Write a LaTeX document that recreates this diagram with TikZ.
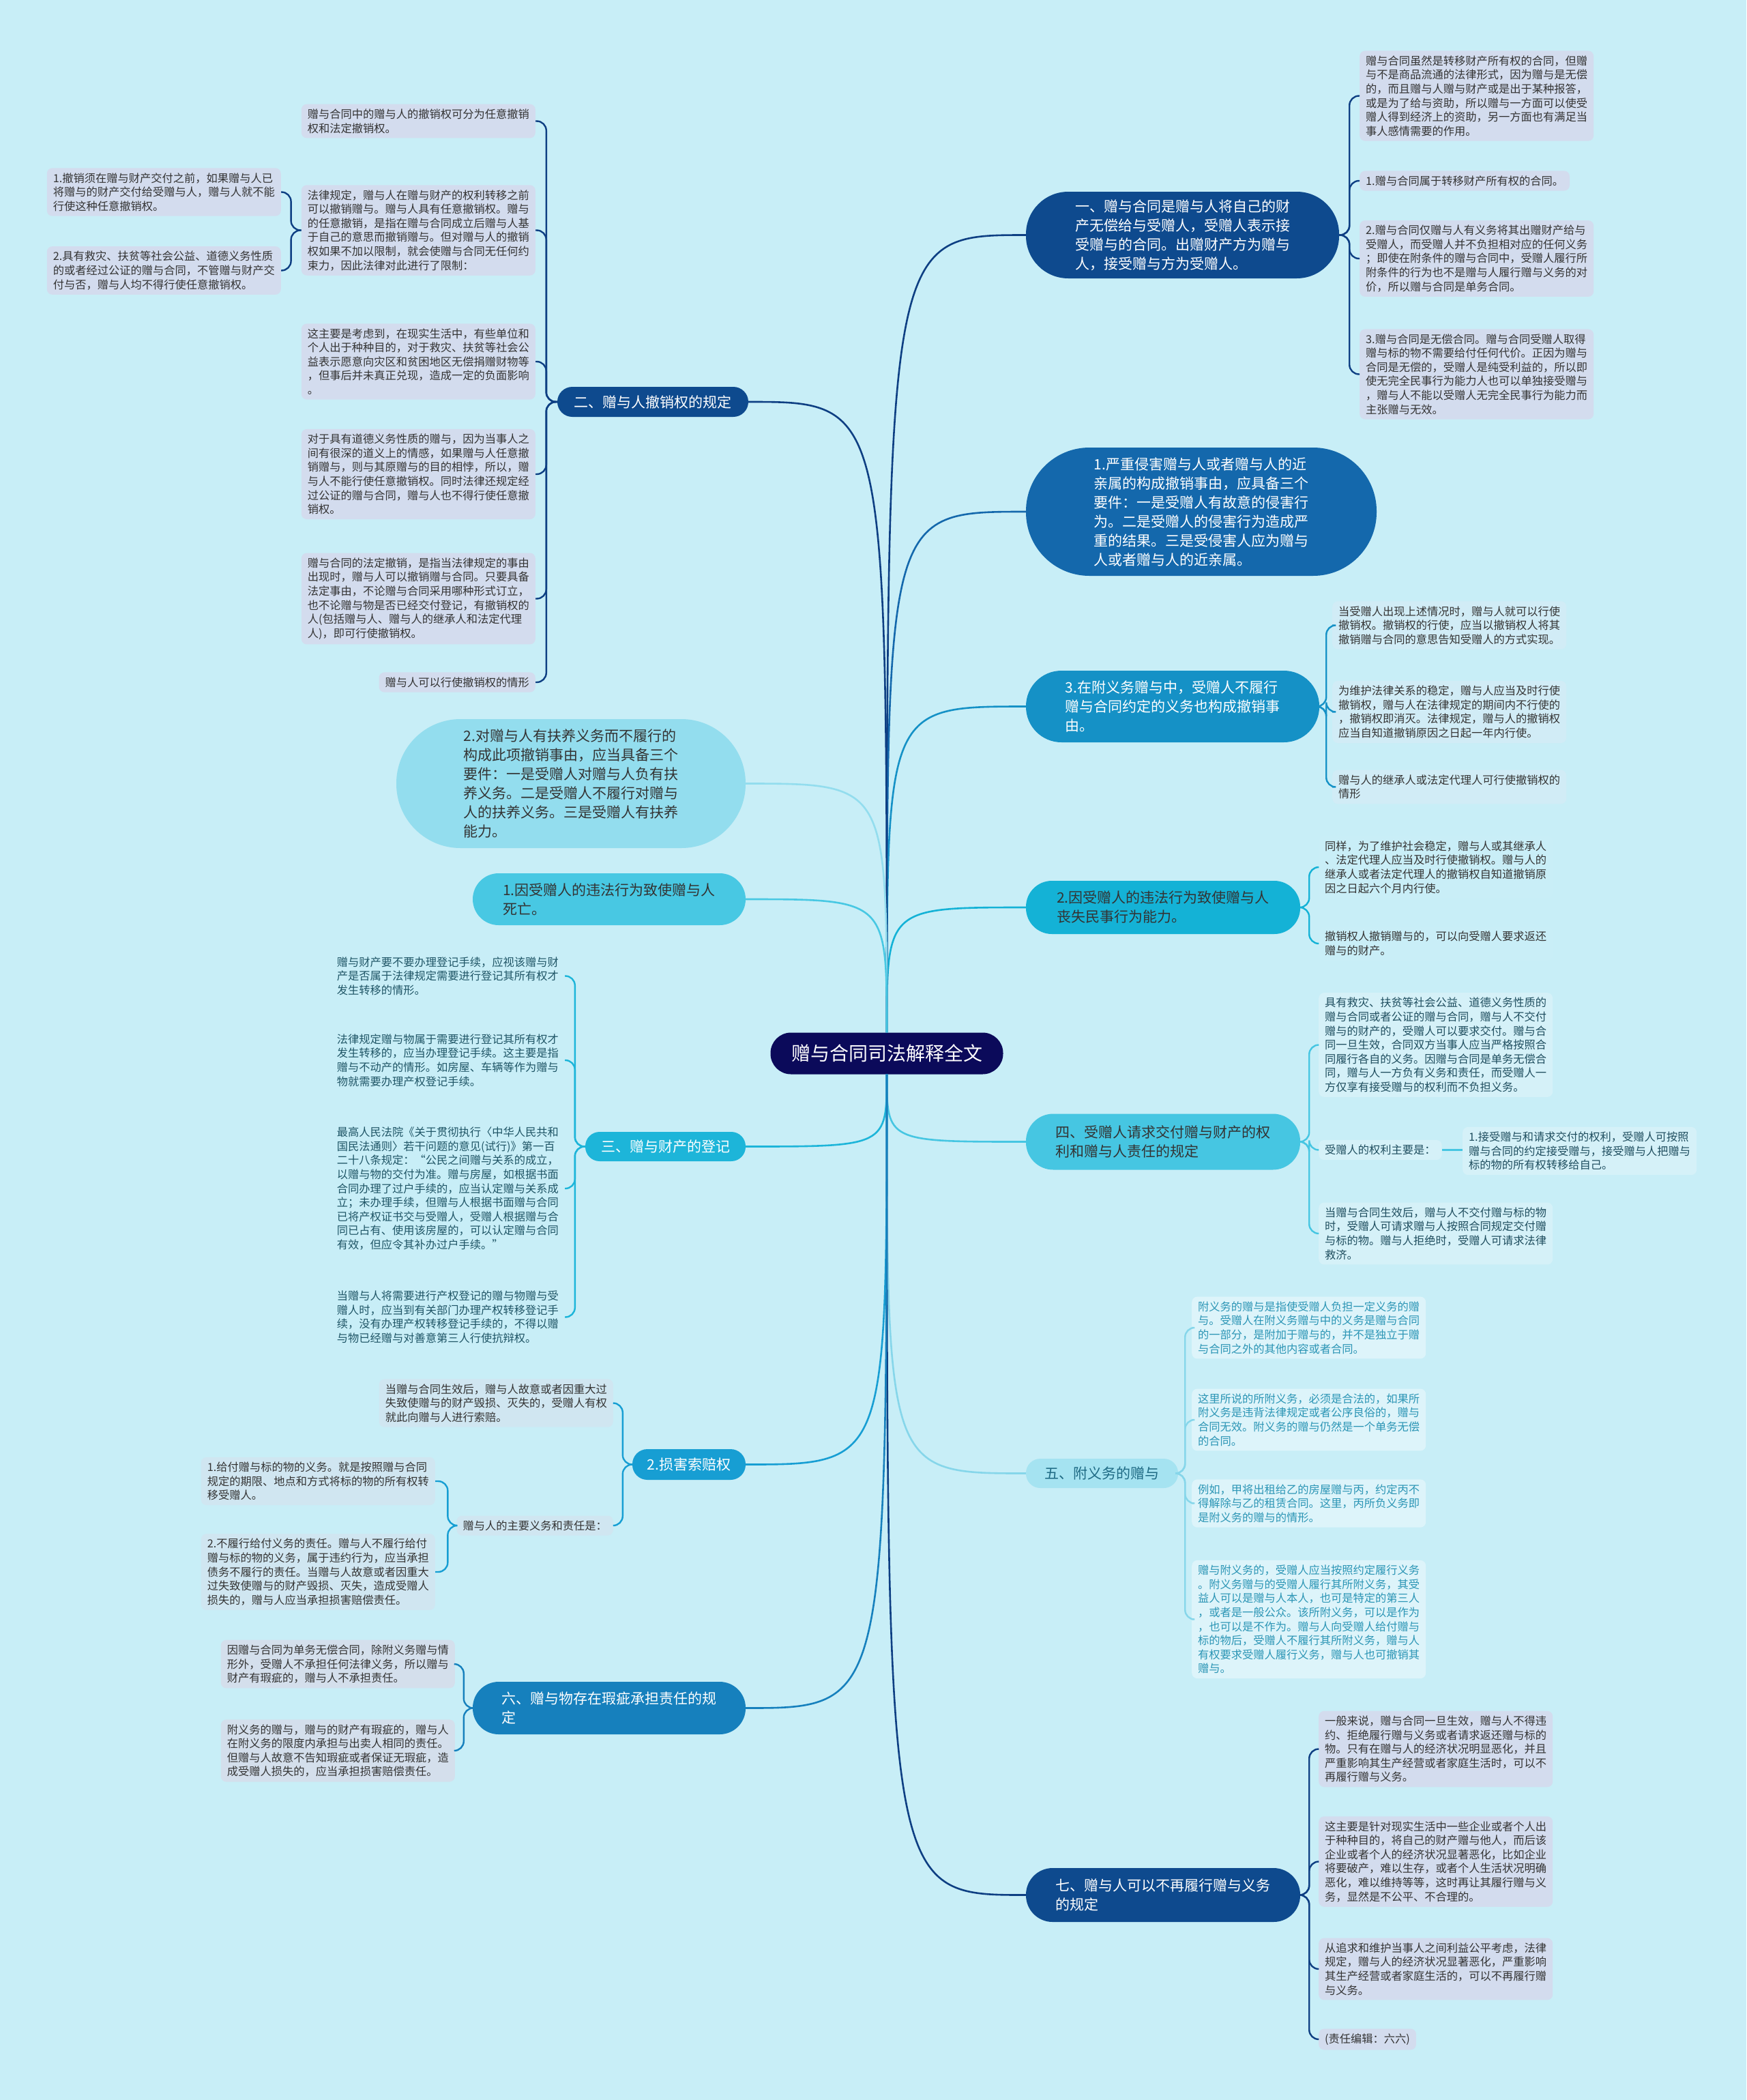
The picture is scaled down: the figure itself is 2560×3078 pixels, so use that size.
\documentclass[tikz,border=0pt]{standalone}
\usepackage{fontspec}
\setmainfont{Noto Sans CJK SC}
\newcommand\myleaf{\fontsize{16.25}{20.6}\selectfont}
\newcommand\mymain{\fontsize{21}{28}\selectfont}
\newcommand\mycenter{\fontsize{28}{34}\selectfont}
\definecolor{bg}{HTML}{C8EEF7}
\definecolor{cCenter}{HTML}{0B0A5A}
\definecolor{cDark}{HTML}{0E4A8E}
\definecolor{cDarkLine}{HTML}{0E3F83}
\definecolor{cNtwo}{HTML}{1468AC}
\definecolor{cNthree}{HTML}{1591C6}
\definecolor{cNfour}{HTML}{14B2D6}
\definecolor{cNfive}{HTML}{46C6E2}
\definecolor{cNsix}{HTML}{A5E3F1}
\definecolor{cNsixText}{HTML}{1E6A84}
\definecolor{cNsixLine}{HTML}{86D6EA}
\definecolor{cMtwo}{HTML}{93DDEE}
\definecolor{cMthree}{HTML}{48C8E3}
\definecolor{cMfour}{HTML}{1DB5D9}
\definecolor{cMfive}{HTML}{179ED3}
\definecolor{cMsix}{HTML}{1680BD}
\definecolor{leafGray}{HTML}{D3DCEE}
\definecolor{leafText}{HTML}{333333}
\definecolor{leafThree}{HTML}{D1ECF6}
\definecolor{leafFour}{HTML}{C9EEF7}
\definecolor{leafFive}{HTML}{D5F1F8}
\definecolor{leafFiveText}{HTML}{1F4E5F}
\definecolor{leafSix}{HTML}{DDF4FA}
\definecolor{leafSixText}{HTML}{2B95B5}
\definecolor{leafMfourText}{HTML}{1F5566}
\definecolor{leafMfive}{HTML}{D0E6F1}
\definecolor{leafMsix}{HTML}{D4DFEC}
\begin{document}
\begin{tikzpicture}[x=1pt,y=-1pt,
  leaf/.style={rectangle, rounded corners=8pt, inner xsep=9pt, inner ysep=7pt, align=left, font=\myleaf, text=leafText},
  mn/.style={rectangle, align=left, inner sep=0pt, font=\mymain},
  cl/.style={line width=2.6pt},
  lc/.style={line width=2.4pt, rounded corners=14pt}]
\useasboundingbox (0,0) rectangle (2560,3078);
\fill[bg] (0,0) rectangle (2560,3078);

% ---------- center ----------
\node[rectangle, rounded corners=30pt, fill=cCenter, text=white, font=\mycenter,
  minimum width=341pt, minimum height=61pt, inner sep=0pt] (C) at (1300,1544) {赠与合同司法解释全文};

% ---------- right main nodes ----------
\node[mn, fill=cDark, text=white, rounded corners=62pt, minimum width=459pt, minimum height=127pt] (N1) at (1733.5,344.5)
 {一、赠与合同是赠与人将自己的财\\产无偿给与受赠人，受赠人表示接\\受赠与的合同。出赠财产方为赠与\\人，接受赠与方为受赠人。};
\node[mn, fill=cNtwo, text=white, rounded corners=93pt, minimum width=514pt, minimum height=188pt] (N2) at (1761,750)
 {1.严重侵害赠与人或者赠与人的近\\亲属的构成撤销事由，应具备三个\\要件：一是受赠人有故意的侵害行\\为。二是受赠人的侵害行为造成严\\重的结果。三是受侵害人应为赠与\\人或者赠与人的近亲属。};
\node[mn, fill=cNthree, text=white, rounded corners=52pt, minimum width=430pt, minimum height=105pt] (N3) at (1719,1035.5)
 {3.在附义务赠与中，受赠人不履行\\赠与合同约定的义务也构成撤销事\\由。};
\node[mn, fill=cNfour, text=leafText, rounded corners=38pt, minimum width=402pt, minimum height=78pt] (N4) at (1705,1330)
 {2.因受赠人的违法行为致使赠与人\\丧失民事行为能力。};
\node[mn, fill=cNfive, text=leafText, rounded corners=40pt, minimum width=402pt, minimum height=82pt] (N5) at (1705,1673.5)
 {四、受赠人请求交付赠与财产的权\\利和赠与人责任的规定};
\node[mn, fill=cNsix, text=cNsixText, rounded corners=21pt, minimum width=223pt, minimum height=43pt] (N6) at (1615.5,2159.5)
 {五、附义务的赠与};
\node[mn, fill=cDark, text=white, rounded corners=39pt, minimum width=402pt, minimum height=79pt] (N7) at (1705,2777.5)
 {七、赠与人可以不再履行赠与义务\\的规定};

% ---------- left main nodes ----------
\node[mn, fill=cDark, text=white, rounded corners=22pt, minimum width=280pt, minimum height=44pt] (M1) at (957,589)
 {二、赠与人撤销权的规定};
\node[mn, fill=cMtwo, text=leafText, rounded corners=94pt, minimum width=512pt, minimum height=189pt] (M2) at (837,1148.5)
 {2.对赠与人有扶养义务而不履行的\\构成此项撤销事由，应当具备三个\\要件：一是受赠人对赠与人负有扶\\养义务。二是受赠人不履行对赠与\\人的扶养义务。三是受赠人有扶养\\能力。};
\node[mn, fill=cMthree, text=leafText, rounded corners=38pt, minimum width=400pt, minimum height=76pt] (M3) at (893,1318)
 {1.因受赠人的违法行为致使赠与人\\死亡。};
\node[mn, fill=cMfour, text=white, rounded corners=21pt, minimum width=235pt, minimum height=43pt] (M4) at (975.5,1680.5)
 {三、赠与财产的登记};
\node[mn, fill=cMfive, text=white, rounded corners=22pt, minimum width=166pt, minimum height=45pt] (M5) at (1010,2146.5)
 {2.损害索赔权};
\node[mn, fill=cMsix, text=white, rounded corners=38pt, minimum width=400pt, minimum height=77pt] (M6) at (893,2503.5)
 {六、赠与物存在瑕疵承担责任的规\\定};

% ---------- leaves of N1 ----------
\node[leaf, fill=leafGray, anchor=west] (L1a) at (1993,140.5)
 {赠与合同虽然是转移财产所有权的合同，但赠\\与不是商品流通的法律形式，因为赠与是无偿\\的，而且赠与人赠与财产或是出于某种报答，\\或是为了给与资助，所以赠与一方面可以使受\\赠人得到经济上的资助，另一方面也有满足当\\事人感情需要的作用。};
\node[leaf, fill=leafGray, anchor=west] (L1b) at (1993,265)
 {1.赠与合同属于转移财产所有权的合同。};
\node[leaf, fill=leafGray, anchor=west] (L1c) at (1993,379)
 {2.赠与合同仅赠与人有义务将其出赠财产给与\\受赠人，而受赠人并不负担相对应的任何义务\\；即使在附条件的赠与合同中，受赠人履行所\\附条件的行为也不是赠与人履行赠与义务的对\\价，所以赠与合同是单务合同。};
\node[leaf, fill=leafGray, anchor=west] (L1d) at (1993,548.5)
 {3.赠与合同是无偿合同。赠与合同受赠人取得\\赠与标的物不需要给付任何代价。正因为赠与\\合同是无偿的，受赠人是纯受利益的，所以即\\使无完全民事行为能力人也可以单独接受赠与\\，赠与人不能以受赠人无完全民事行为能力而\\主张赠与无效。};

% ---------- leaves of N3 ----------
\node[leaf, fill=leafThree, anchor=west] (L3a) at (1953,916.5)
 {当受赠人出现上述情况时，赠与人就可以行使\\撤销权。撤销权的行使，应当以撤销权人将其\\撤销赠与合同的意思告知受赠人的方式实现。};
\node[leaf, fill=leafThree, anchor=west] (L3b) at (1953,1043.5)
 {为维护法律关系的稳定，赠与人应当及时行使\\撤销权，赠与人在法律规定的期间内不行使的\\，撤销权即消灭。法律规定，赠与人的撤销权\\应当自知道撤销原因之日起一年内行使。};
\node[leaf, fill=leafThree, anchor=west] (L3c) at (1953,1153.5)
 {赠与人的继承人或法定代理人可行使撤销权的\\情形};

% ---------- leaves of N4 ----------
\node[leaf, fill=leafFour, anchor=west] (R2a) at (1933,1271)
 {同样，为了维护社会稳定，赠与人或其继承人\\、法定代理人应当及时行使撤销权。赠与人的\\继承人或者法定代理人的撤销权自知道撤销原\\因之日起六个月内行使。};
\node[leaf, fill=leafFour, anchor=west] (R2b) at (1933,1383)
 {撤销权人撤销赠与的，可以向受赠人要求返还\\赠与的财产。};

% ---------- leaves of N5 ----------
\node[leaf, fill=leafFive, text=leafFiveText, anchor=west] (R4a) at (1933,1531.5)
 {具有救灾、扶贫等社会公益、道德义务性质的\\赠与合同或者公证的赠与合同，赠与人不交付\\赠与的财产的，受赠人可以要求交付。赠与合\\同一旦生效，合同双方当事人应当严格按照合\\同履行各自的义务。因赠与合同是单务无偿合\\同，赠与人一方负有义务和责任，而受赠人一\\方仅享有接受赠与的权利而不负担义务。};
\node[leaf, fill=leafFive, text=leafFiveText, anchor=west] (R4b) at (1933,1685.5)
 {受赠人的权利主要是：};
\node[leaf, fill=leafFive, text=leafFiveText, anchor=west] (R4b1) at (2144,1687)
 {1.接受赠与和请求交付的权利，受赠人可按照\\赠与合同的约定接受赠与，接受赠与人把赠与\\标的物的所有权转移给自己。};
\node[leaf, fill=leafFive, text=leafFiveText, anchor=west] (R4c) at (1933,1808)
 {当赠与合同生效后，赠与人不交付赠与标的物\\时，受赠人可请求赠与人按照合同规定交付赠\\与标的物。赠与人拒绝时，受赠人可请求法律\\救济。};

% ---------- leaves of N6 ----------
\node[leaf, fill=leafSix, text=leafSixText, anchor=west] (R5a) at (1747,1946)
 {附义务的赠与是指使受赠人负担一定义务的赠\\与。受赠人在附义务赠与中的义务是赠与合同\\的一部分，是附加于赠与的，并不是独立于赠\\与合同之外的其他内容或者合同。};
\node[leaf, fill=leafSix, text=leafSixText, anchor=west] (R5b) at (1747,2081)
 {这里所说的所附义务，必须是合法的，如果所\\附义务是违背法律规定或者公序良俗的，赠与\\合同无效。附义务的赠与仍然是一个单务无偿\\的合同。};
\node[leaf, fill=leafSix, text=leafSixText, anchor=west] (R5c) at (1747,2203.5)
 {例如，甲将出租给乙的房屋赠与丙，约定丙不\\得解除与乙的租赁合同。这里，丙所负义务即\\是附义务的赠与的情形。};
\node[leaf, fill=leafSix, text=leafSixText, anchor=west] (R5d) at (1747,2373.5)
 {赠与附义务的，受赠人应当按照约定履行义务\\。附义务赠与的受赠人履行其所附义务，其受\\益人可以是赠与人本人，也可是特定的第三人\\，或者是一般公众。该所附义务，可以是作为\\，也可以是不作为。赠与人向受赠人给付赠与\\标的物后，受赠人不履行其所附义务，赠与人\\有权要求受赠人履行义务，赠与人也可撤销其\\赠与。};

% ---------- leaves of N7 ----------
\node[leaf, fill=leafGray, anchor=west] (R7a) at (1933,2563.5)
 {一般来说，赠与合同一旦生效，赠与人不得违\\约、拒绝履行赠与义务或者请求返还赠与标的\\物。只有在赠与人的经济状况明显恶化，并且\\严重影响其生产经营或者家庭生活时，可以不\\再履行赠与义务。};
\node[leaf, fill=leafGray, anchor=west] (R7b) at (1933,2728.5)
 {这主要是针对现实生活中一些企业或者个人出\\于种种目的，将自己的财产赠与他人，而后该\\企业或者个人的经济状况显著恶化，比如企业\\将要破产，难以生存，或者个人生活状况明确\\恶化，难以维持等等，这时再让其履行赠与义\\务，显然是不公平、不合理的。};
\node[leaf, fill=leafGray, anchor=west] (R7c) at (1933,2886)
 {从追求和维护当事人之间利益公平考虑，法律\\规定，赠与人的经济状况显著恶化，严重影响\\其生产经营或者家庭生活的，可以不再履行赠\\与义务。};
\node[leaf, fill=leafGray, anchor=west] (R7d) at (1933,2989)
 {(责任编辑：六六)};

% ---------- leaves of M1 ----------
\node[leaf, fill=leafGray, anchor=east] (L2a) at (785,177.5)
 {赠与合同中的赠与人的撤销权可分为任意撤销\\权和法定撤销权。};
\node[leaf, fill=leafGray, anchor=east] (L2b) at (785,337.5)
 {法律规定，赠与人在赠与财产的权利转移之前\\可以撤销赠与。赠与人具有任意撤销权。赠与\\的任意撤销，是指在赠与合同成立后赠与人基\\于自己的意思而撤销赠与。但对赠与人的撤销\\权如果不加以限制，就会使赠与合同无任何约\\束力，因此法律对此进行了限制：};
\node[leaf, fill=leafGray, anchor=east] (L2b1) at (412,281.5)
 {1.撤销须在赠与财产交付之前，如果赠与人已\\将赠与的财产交付给受赠与人，赠与人就不能\\行使这种任意撤销权。};
\node[leaf, fill=leafGray, anchor=east] (L2b2) at (412,396.5)
 {2.具有救灾、扶贫等社会公益、道德义务性质\\的或者经过公证的赠与合同，不管赠与财产交\\付与否，赠与人均不得行使任意撤销权。};
\node[leaf, fill=leafGray, anchor=east] (L2c) at (785,530)
 {这主要是考虑到，在现实生活中，有些单位和\\个人出于种种目的，对于救灾、扶贫等社会公\\益表示愿意向灾区和贫困地区无偿捐赠财物等\\，但事后并未真正兑现，造成一定的负面影响\\。};
\node[leaf, fill=leafGray, anchor=east] (L2d) at (785,695)
 {对于具有道德义务性质的赠与，因为当事人之\\间有很深的道义上的情感，如果赠与人任意撤\\销赠与，则与其原赠与的目的相悖，所以，赠\\与人不能行使任意撤销权。同时法律还规定经\\过公证的赠与合同，赠与人也不得行使任意撤\\销权。};
\node[leaf, fill=leafGray, anchor=east] (L2e) at (785,877.5)
 {赠与合同的法定撤销，是指当法律规定的事由\\出现时，赠与人可以撤销赠与合同。只要具备\\法定事由，不论赠与合同采用哪种形式订立，\\也不论赠与物是否已经交付登记，有撤销权的\\人(包括赠与人、赠与人的继承人和法定代理\\人)，即可行使撤销权。};
\node[leaf, fill=leafGray, anchor=east] (L2f) at (785,1000)
 {赠与人可以行使撤销权的情形};

% ---------- leaves of M4 ----------
\node[leaf, text=leafMfourText, anchor=east] (L4a) at (828,1430.5)
 {赠与财产要不要办理登记手续，应视该赠与财\\产是否属于法律规定需要进行登记其所有权才\\发生转移的情形。};
\node[leaf, text=leafMfourText, anchor=east] (L4b) at (828,1554)
 {法律规定赠与物属于需要进行登记其所有权才\\发生转移的，应当办理登记手续。这主要是指\\赠与不动产的情形。如房屋、车辆等作为赠与\\物就需要办理产权登记手续。};
\node[leaf, text=leafMfourText, anchor=east] (L4c) at (828,1742)
 {最高人民法院《关于贯彻执行〈中华人民共和\\国民法通则〉若干问题的意见(试行)》第一百\\二十八条规定：“公民之间赠与关系的成立，\\以赠与物的交付为准。赠与房屋，如根据书面\\合同办理了过户手续的，应当认定赠与关系成\\立；未办理手续，但赠与人根据书面赠与合同\\已将产权证书交与受赠人，受赠人根据赠与合\\同已占有、使用该房屋的，可以认定赠与合同\\有效，但应令其补办过户手续。”};
\node[leaf, text=leafMfourText, anchor=east] (L4d) at (828,1930.5)
 {当赠与人将需要进行产权登记的赠与物赠与受\\赠人时，应当到有关部门办理产权转移登记手\\续，没有办理产权转移登记手续的，不得以赠\\与物已经赠与对善意第三人行使抗辩权。};

% ---------- leaves of M5 ----------
\node[leaf, fill=leafMfive, anchor=east] (LDa) at (899,2056.5)
 {当赠与合同生效后，赠与人故意或者因重大过\\失致使赠与的财产毁损、灭失的，受赠人有权\\就此向赠与人进行索赔。};
\node[leaf, fill=leafMfive, anchor=east] (LDb) at (899,2236)
 {赠与人的主要义务和责任是：};
\node[leaf, fill=leafMfive, anchor=east] (LDb1) at (638,2171)
 {1.给付赠与标的物的义务。就是按照赠与合同\\规定的期限、地点和方式将标的物的所有权转\\移受赠人。};
\node[leaf, fill=leafMfive, anchor=east] (LDb2) at (638,2304)
 {2.不履行给付义务的责任。赠与人不履行给付\\赠与标的物的义务，属于违约行为，应当承担\\债务不履行的责任。当赠与人故意或者因重大\\过失致使赠与的财产毁损、灭失，造成受赠人\\损失的，赠与人应当承担损害赔偿责任。};

% ---------- leaves of M6 ----------
\node[leaf, fill=leafMsix, anchor=east] (L6a) at (667,2439)
 {因赠与合同为单务无偿合同，除附义务赠与情\\形外，受赠人不承担任何法律义务，所以赠与\\财产有瑕疵的，赠与人不承担责任。};
\node[leaf, fill=leafMsix, anchor=east] (L6b) at (667,2566)
 {附义务的赠与，赠与的财产有瑕疵的，赠与人\\在附义务的限度内承担与出卖人相同的责任。\\但赠与人故意不告知瑕疵或者保证无瑕疵，造\\成受赠人损失的，应当承担损害赔偿责任。};

% ---------- center connectors ----------
\foreach \n/\col in {N1/cDarkLine, N2/cNtwo, N3/cNthree, N4/cNfour}
  \draw[cl, \col] (C.north) .. controls (C.north |- \n.west) .. (\n.west);
\foreach \n/\col in {M1/cDarkLine, M2/cMtwo, M3/cMthree}
  \draw[cl, \col] (C.north) .. controls (C.north |- \n.east) .. (\n.east);
\foreach \n/\col in {N5/cNfive, N6/cNsixLine, N7/cDarkLine}
  \draw[cl, \col] (C.south) .. controls (C.south |- \n.west) .. (\n.west);
\foreach \n/\col in {M4/cMfour, M5/cMfive, M6/cMsix}
  \draw[cl, \col] (C.south) .. controls (C.south |- \n.east) .. (\n.east);

% ---------- leaf connectors, right ----------
\foreach \l in {L1a,L1b,L1c,L1d}
  \draw[lc, cDarkLine] (N1.east) -- ++(15,0) |- (\l.west);
\foreach \l in {L3a,L3b,L3c}
  \draw[lc, cNthree] (N3.east) -- ++(10,0) |- (\l.west);
\foreach \l in {R2a,R2b}
  \draw[lc, cNfour] (N4.east) -- ++(13,0) |- (\l.west);
\foreach \l in {R4a,R4b,R4c}
  \draw[lc, cNfive] (N5.east) -- ++(13,0) |- (\l.west);
\draw[lc, cNfive] (R4b.east) -- (R4b1.west |- R4b.east);
\foreach \l in {R5a,R5b,R5c,R5d}
  \draw[lc, cNsixLine] (N6.east) -- ++(10,0) |- (\l.west);
\foreach \l in {R7a,R7b,R7c,R7d}
  \draw[lc, cDarkLine] (N7.east) -- ++(13,0) |- (\l.west);

% ---------- leaf connectors, left ----------
\foreach \l in {L2a,L2b,L2c,L2d,L2e,L2f}
  \draw[lc, cDarkLine] (M1.west) -- ++(-16,0) |- (\l.east);
\foreach \l in {L2b1,L2b2}
  \draw[lc, cDarkLine] (L2b.west) -- ++(-15,0) |- (\l.east);
\foreach \l in {L4a,L4b,L4c,L4d}
  \draw[lc, cMfour] (M4.west) -- ++(-15,0) |- (\l.east);
\foreach \l in {LDa,LDb}
  \draw[lc, cMfive] (M5.west) -- ++(-14,0) |- (\l.east);
\foreach \l in {LDb1,LDb2}
  \draw[lc, cMfive] (LDb.west) -- ++(-13,0) |- (\l.east);
\foreach \l in {L6a,L6b}
  \draw[lc, cMsix] (M6.west) -- ++(-13,0) |- (\l.east);
\end{tikzpicture}
\end{document}
